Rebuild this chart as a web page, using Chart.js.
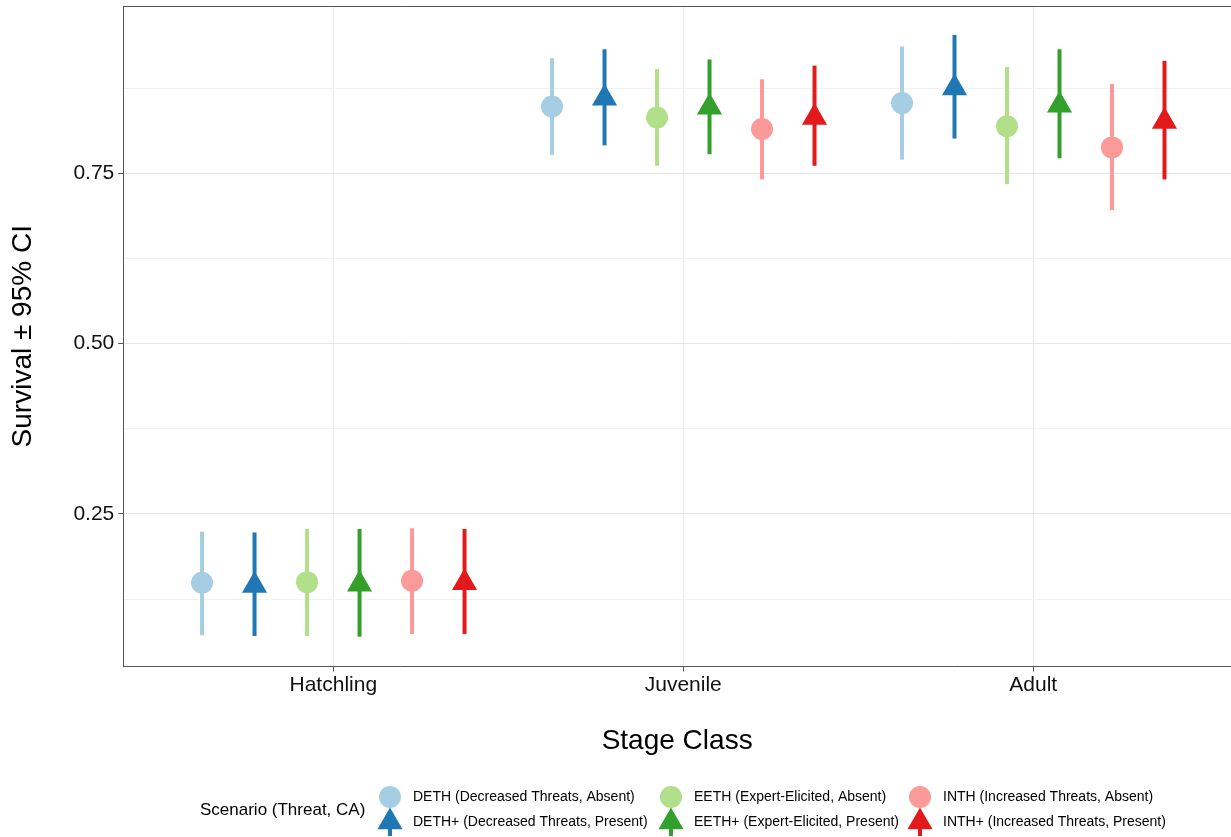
<!DOCTYPE html>
<html>
<head>
<meta charset="utf-8">
<script src="https://cdn.jsdelivr.net/npm/chart.js@4.4.1/dist/chart.umd.min.js"></script>
<style>
  html, body { margin: 0; padding: 0; background: #ffffff; }
  #wrap { width: 1231px; height: 837px; position: relative; }
</style>
</head>
<body>
<div id="wrap"><canvas id="c" width="1231" height="837"></canvas></div>
<script>
// ---------------- DATA ----------------
const stages = ['Hatchling', 'Juvenile', 'Adult'];
const stageTicks = [1, 2, 3];
const scenarios = [
  'DETH (Decreased Threats, Absent)',
  'DETH+ (Decreased Threats, Present)',
  'EETH (Expert-Elicited, Absent)',
  'EETH+ (Expert-Elicited, Present)',
  'INTH (Increased Threats, Absent)',
  'INTH+ (Increased Threats, Present)'
];
const legendTitle = 'Scenario (Threat, CA)';

const dethEst  = [0.149, 0.848, 0.853];
const dethLow  = [0.072, 0.777, 0.770];
const dethHigh = [0.224, 0.919, 0.936];

const dethPEst  = [0.145, 0.860, 0.875];
const dethPLow  = [0.071, 0.791, 0.801];
const dethPHigh = [0.223, 0.932, 0.953];

const eethEst  = [0.150, 0.832, 0.819];
const eethLow  = [0.071, 0.761, 0.734];
const eethHigh = [0.228, 0.903, 0.906];

const eethPEst  = [0.147, 0.847, 0.850];
const eethPLow  = [0.070, 0.778, 0.772];
const eethPHigh = [0.228, 0.917, 0.932];

const inthEst  = [0.152, 0.815, 0.788];
const inthLow  = [0.074, 0.741, 0.696];
const inthHigh = [0.229, 0.888, 0.881];

const inthPEst  = [0.149, 0.832, 0.826];
const inthPLow  = [0.074, 0.761, 0.741];
const inthPHigh = [0.228, 0.908, 0.915];

const yGridValues  = [0.125, 0.25, 0.375, 0.5, 0.625, 0.75, 0.875];
const yLabelValues = [0.25, 0.5, 0.75];

// ---------------- STYLE ----------------
const colors = ['#A6CEE3', '#1F78B4', '#B2DF8A', '#33A02C', '#FB9A99', '#E31A1C'];
const shapes = ['circle', 'triangle', 'circle', 'triangle', 'circle', 'triangle'];
const sizes  = [11, 14.5, 11, 14.5, 11, 14.5];
const dodge = 0.15;
const FONT = '"Liberation Sans", Arial, Helvetica, sans-serif';
Chart.defaults.font.family = FONT;

const series = [
  [dethEst, dethLow, dethHigh],
  [dethPEst, dethPLow, dethPHigh],
  [eethEst, eethLow, eethHigh],
  [eethPEst, eethPLow, eethPHigh],
  [inthEst, inthLow, inthHigh],
  [inthPEst, inthPLow, inthPHigh]
];

const datasets = series.map((s, i) => ({
  label: scenarios[i],
  data: stages.map((st, k) => ({ x: stageTicks[k] + (i - 2.5) * dodge, y: s[0][k] })),
  errLow: s[1],
  errHigh: s[2],
  pointStyle: shapes[i],
  pointRadius: sizes[i],
  pointHoverRadius: sizes[i],
  pointBackgroundColor: colors[i],
  pointBorderWidth: 0,
  backgroundColor: colors[i],
  borderColor: colors[i],
  showLine: false
}));

const errorBars = {
  id: 'errorBars',
  beforeDatasetsDraw(chart) {
    const { ctx, scales: { x, y } } = chart;
    ctx.save();
    chart.data.datasets.forEach((ds, i) => {
      ds.data.forEach((p, k) => {
        const px = x.getPixelForValue(p.x);
        ctx.beginPath();
        ctx.strokeStyle = ds.borderColor;
        ctx.lineWidth = 4;
        ctx.lineCap = 'butt';
        ctx.moveTo(px, y.getPixelForValue(ds.errLow[k]));
        ctx.lineTo(px, y.getPixelForValue(ds.errHigh[k]));
        ctx.stroke();
      });
    });
    ctx.restore();
  }
};

const panelBorder = {
  id: 'panelBorder',
  afterDraw(chart) {
    const { ctx, chartArea: a } = chart;
    ctx.save();
    ctx.strokeStyle = '#555555';
    ctx.lineWidth = 1;
    ctx.beginPath();
    ctx.moveTo(a.left, a.top + 0.5);
    ctx.lineTo(a.right, a.top + 0.5);
    ctx.stroke();
    ctx.restore();
  }
};

const customLegend = {
  id: 'customLegend',
  afterDraw(chart) {
    const { ctx } = chart;
    const colX = [390, 671, 920];
    const rowY = [797, 822];
    ctx.save();
    ctx.fillStyle = '#000';
    ctx.textBaseline = 'middle';
    ctx.textAlign = 'left';
    ctx.font = '17px ' + FONT;
    ctx.fillText(legendTitle, 200, 810);
    ctx.font = '14px ' + FONT;
    chart.data.datasets.forEach((ds, i) => {
      const cx = colX[Math.floor(i / 2)];
      const cy = rowY[i % 2];
      if (ds.pointStyle === 'triangle') {
        ctx.beginPath();
        ctx.strokeStyle = ds.borderColor;
        ctx.lineWidth = 4;
        ctx.moveTo(cx, cy);
        ctx.lineTo(cx, cy + 14);
        ctx.stroke();
      }
      ctx.fillStyle = ds.pointBackgroundColor;
      Chart.helpers.drawPoint(ctx, { pointStyle: ds.pointStyle, radius: ds.pointRadius, rotation: 0, borderWidth: 0 }, cx, cy);
      ctx.fillStyle = '#000';
      ctx.fillText(ds.label, cx + 23, cy);
    });
    ctx.restore();
  }
};

new Chart(document.getElementById('c'), {
  type: 'scatter',
  data: { datasets },
  plugins: [errorBars, panelBorder, customLegend],
  options: {
    responsive: false,
    animation: false,
    layout: { autoPadding: false, padding: { top: 6, bottom: 67, left: 0, right: 0 } },
    plugins: { legend: { display: false }, tooltip: { enabled: false } },
    scales: {
      x: {
        type: 'linear',
        min: 0.4,
        max: 3.565,
        afterBuildTicks: s => { s.ticks = stageTicks.map(v => ({ value: v })); },
        afterFit: s => { s.height = 103.5; s.paddingLeft = 0; s.paddingRight = 0; s.paddingTop = 0; s.paddingBottom = 0; },
        ticks: {
          callback: v => stages[stageTicks.indexOf(v)] || '',
          font: { size: 21 },
          color: '#111',
          padding: 1,
          autoSkip: false,
          maxRotation: 0
        },
        grid: { color: '#ebebeb', lineWidth: 1, tickColor: '#555', tickLength: 5, drawTicks: true },
        border: { display: true, color: '#555', width: 1 },
        title: { display: true, text: 'Stage Class', font: { size: 28 }, color: '#000', padding: { top: 0, bottom: 12 } }
      },
      y: {
        type: 'linear',
        min: 0.0262,
        max: 0.9955,
        afterBuildTicks: s => { s.ticks = yGridValues.map(v => ({ value: v })); },
        afterFit: s => { s.width = 123.3; s.paddingLeft = 0; s.paddingRight = 0; s.paddingTop = 0; s.paddingBottom = 0; },
        ticks: {
          callback: v => yLabelValues.includes(v) ? v.toFixed(2) : '',
          font: { size: 21 },
          color: '#111',
          padding: 4,
          autoSkip: false
        },
        grid: {
          color: c => (c.tick && yLabelValues.includes(c.tick.value)) ? '#e6e6e6' : '#f2f2f2',
          lineWidth: 1,
          tickColor: c => (c.tick && yLabelValues.includes(c.tick.value)) ? '#555' : 'rgba(0,0,0,0)',
          tickLength: 5,
          drawTicks: true
        },
        border: { display: true, color: '#555', width: 1 },
        title: { display: true, text: 'Survival ± 95% CI', font: { size: 28 }, color: '#000', padding: { top: 6, bottom: 0 } }
      }
    }
  }
});
</script>
</body>
</html>
